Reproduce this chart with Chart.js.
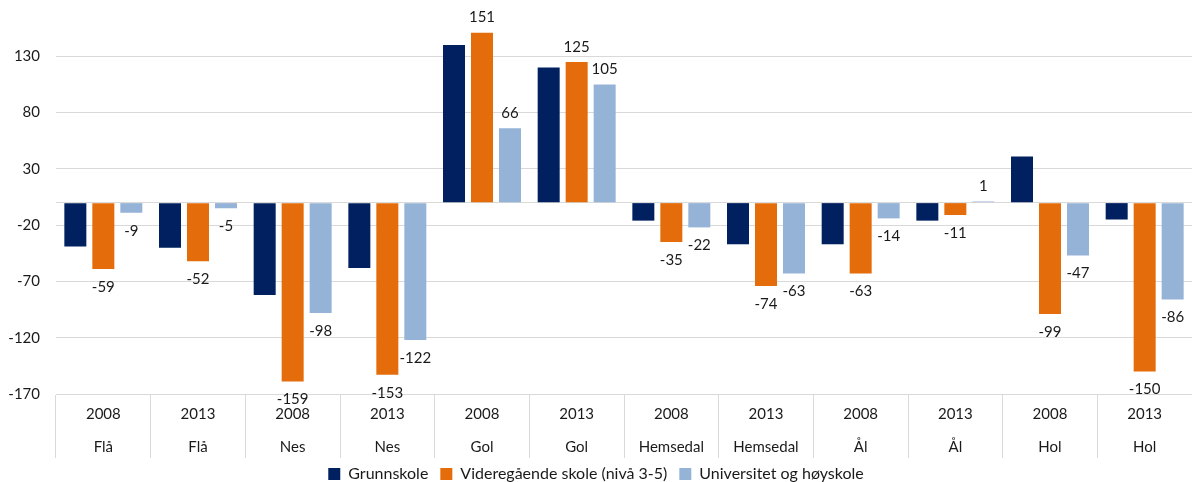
<!DOCTYPE html>
<html>
<head>
<meta charset="utf-8">
<script src="https://cdn.jsdelivr.net/npm/chart.js@4/dist/chart.umd.min.js"></script>
<style>
  html, body { margin: 0; padding: 0; background: #fff; }
  #wrap { width: 1192px; height: 482px; position: relative; }
</style>
</head>
<body>
<div id="wrap"><canvas id="chart"></canvas></div>
<script>
// Kategorier (år + kommune)
const years = ['2008', '2013', '2008', '2013', '2008', '2013', '2008', '2013', '2008', '2013', '2008', '2013'];
const kommuner = ['Flå', 'Flå', 'Nes', 'Nes', 'Gol', 'Gol', 'Hemsedal', 'Hemsedal', 'Ål', 'Ål', 'Hol', 'Hol'];

// Serier
const grunnskole = [-39, -40, -82, -58, 140, 120, -16, -37, -37, -16, 41, -15];
const videregaende = [-59, -52, -159, -153, 151, 125, -35, -74, -63, -11, -99, -150];
const universitet = [-9, -5, -98, -122, 66, 105, -22, -63, -14, 1, -47, -86];

// Akse
const yTicks = [-170, -120, -70, -20, 0, 30, 80, 130];

const labels = years.map((y, i) => [y, kommuner[i]]);
const FONT = 'Lato, "Open Sans", sans-serif';

// Verdietiketter over/under stolpene
const valueLabels = {
    id: 'valueLabels',
    afterDatasetsDraw(chart) {
        const ctx = chart.ctx;
        ctx.save();
        ctx.font = '15px ' + FONT;
        ctx.fillStyle = '#1a1a1a';
        ctx.textAlign = 'center';
        ctx.textBaseline = 'middle';
        chart.data.datasets.forEach((ds, di) => {
            if (!ds.showValues) return;
            chart.getDatasetMeta(di).data.forEach((bar, i) => {
                const v = ds.data[i];
                const y = v >= 0 ? bar.y - 15 : bar.y + 18;
                ctx.fillText(String(v), bar.x, y);
            });
        });
        ctx.restore();
    }
};

const ctx = document.getElementById('chart').getContext('2d');
new Chart(ctx, {
    type: 'bar',
    data: {
        labels: labels,
        datasets: [
            { label: 'Grunnskole', data: grunnskole, backgroundColor: '#002060', showValues: false },
            { label: 'Videregående skole (nivå 3-5)', data: videregaende, backgroundColor: '#E46C0A', showValues: true },
            { label: 'Universitet og høyskole', data: universitet, backgroundColor: '#95B3D7', showValues: true }
        ]
    },
    options: {
        responsive: true,
        maintainAspectRatio: false,
        animation: false,
        categoryPercentage: 0.887,
        barPercentage: 0.786,
        layout: { padding: { left: 0, right: 0, top: 0, bottom: 0 } },
        plugins: {
            legend: {
                position: 'bottom',
                maxHeight: 28,
                labels: {
                    boxWidth: 12,
                    boxHeight: 12,
                    padding: 12,
                    color: '#1a1a1a',
                    font: { family: FONT, size: 16 }
                }
            },
            tooltip: { enabled: false }
        },
        scales: {
            x: {
                grid: {
                    display: true,
                    drawOnChartArea: false,
                    drawTicks: true,
                    tickLength: 64,
                    offset: true,
                    color: '#d9d9d9'
                },
                border: { display: true, color: '#d9d9d9' },
                ticks: {
                    padding: -60,
                    color: '#1a1a1a',
                    maxRotation: 0,
                    autoSkip: false,
                    font: { family: FONT, size: 15, lineHeight: 2.2 }
                },
                afterFit: function(scale) { scale.height = 60; }
            },
            y: {
                min: -170,
                max: 172,
                grid: { color: '#d9d9d9', drawTicks: true, tickLength: 16, tickColor: 'rgba(0,0,0,0)' },
                border: { display: false },
                afterBuildTicks: function(axis) {
                    axis.ticks = yTicks.map(v => ({ value: v }));
                },
                ticks: {
                    padding: 0,
                    color: '#1a1a1a',
                    font: { family: FONT, size: 15 },
                    callback: function(value) { return value === 0 ? '' : value; }
                },
                afterFit: function(scale) { scale.width = 56; }
            }
        }
    },
    plugins: [valueLabels]
});
</script>
</body>
</html>
